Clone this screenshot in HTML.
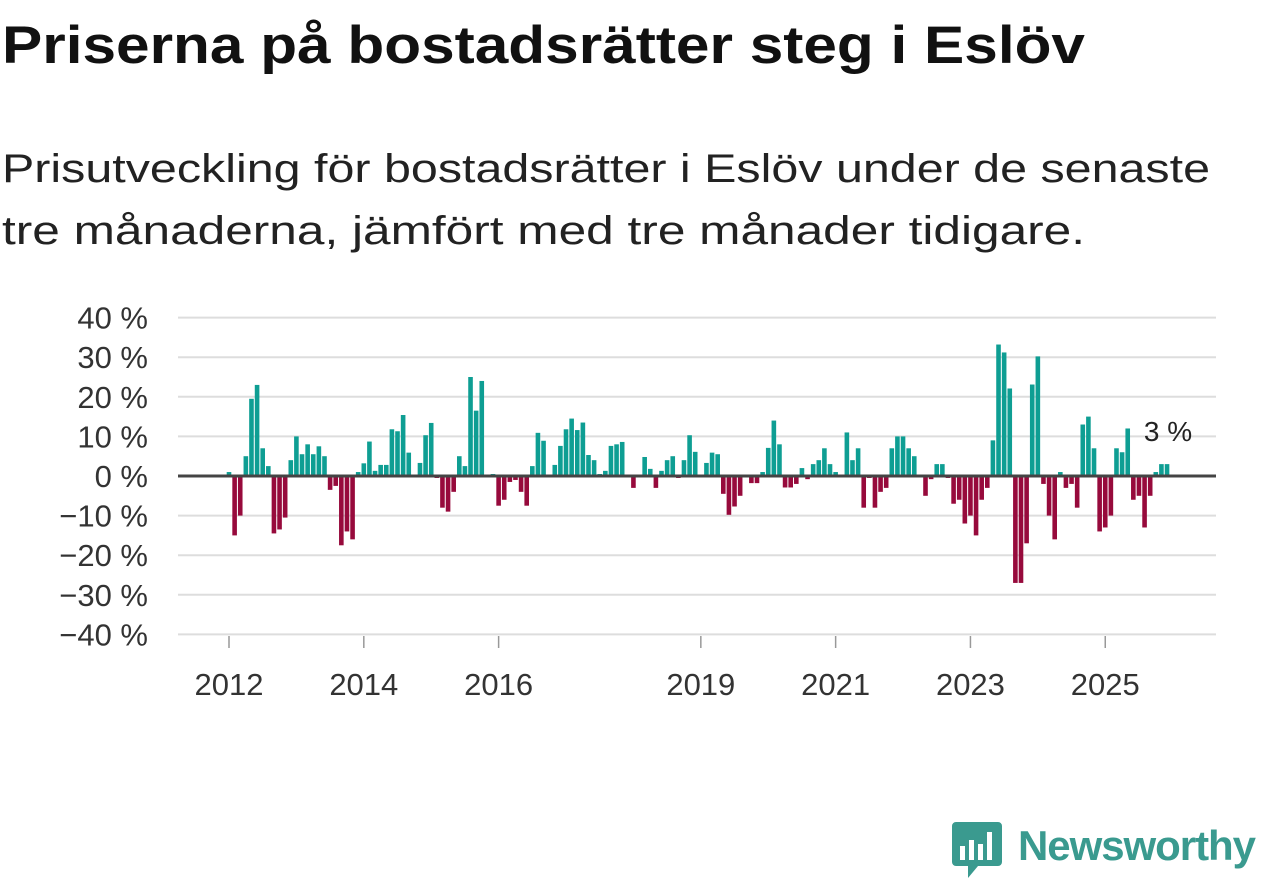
<!DOCTYPE html>
<html><head><meta charset="utf-8"><style>
body{margin:0;width:1262px;height:879px;background:#fff;overflow:hidden;font-family:"Liberation Sans",sans-serif;color:#111}
svg{position:absolute;left:0;top:0}
</style></head><body>
<svg width="1262" height="300">
<text x="2" y="63" font-size="53" font-weight="bold" fill="#111" font-family="Liberation Sans, sans-serif" textLength="1083" lengthAdjust="spacingAndGlyphs">Priserna på bostadsrätter steg i Eslöv</text>
<text x="2" y="182" font-size="40" fill="#222" font-family="Liberation Sans, sans-serif" textLength="1208" lengthAdjust="spacingAndGlyphs">Prisutveckling för bostadsrätter i Eslöv under de senaste</text>
<text x="2" y="244" font-size="40" fill="#222" font-family="Liberation Sans, sans-serif" textLength="1083" lengthAdjust="spacingAndGlyphs">tre månaderna, jämfört med tre månader tidigare.</text>
</svg>
<svg id="chart" width="1262" height="879" style="top:0"></svg>
<script>
const startYear = 2012;
const values = [1,-15,-10,5,19.5,23,7,2.5,-14.5,-13.5,-10.5,4,
10,5.5,8,5.5,7.5,5,-3.5,-2.5,-17.5,-14,-16,1,
3.2,8.7,1.3,2.8,2.8,11.8,11.3,15.4,5.9,0,3.3,10.3,
13.4,-0.5,-8,-9,-4,5,2.5,25,16.5,24,0,0.5,
-7.5,-6,-1.5,-1,-4,-7.5,2.5,10.9,8.9,0,2.8,7.6,
11.8,14.5,11.6,13.5,5.3,4,0.5,1.3,7.6,8,8.6,0,
-3,0,4.8,1.8,-3,1.3,4,5,-0.5,4,10.3,6.1,
0,3.3,5.9,5.5,-4.5,-9.8,-7.7,-5,0,-1.8,-1.8,1,
7.1,14,8,-2.9,-2.9,-2,2,-0.8,3,4,7,3,
1,0,11,4,7,-8,-0.5,-8,-4,-3,7,10,
10,7,5,0,-5,-0.8,3,3,-0.5,-7,-6,-12,
-10,-15,-6,-3,9,33.2,31.2,22.1,-27,-27,-17,23.1,
30.2,-2,-10,-16,1,-3,-2,-8,13,15,7,-14,
-13,-10,7,6,12,-6,-5,-13,-5,1,3,3];
const yTicks = [40,30,20,10,0,-10,-20,-30,-40];
const yTickLabels = ["40 %","30 %","20 %","10 %","0 %","\u221210 %","\u221220 %","\u221230 %","\u221240 %"];
const xTickYears = [2012,2014,2016,2019,2021,2023,2025];
const lastLabel = "3 %";

const svg = document.getElementById('chart');
const NS = 'http://www.w3.org/2000/svg';
const x0 = 229, monthW = 5.617;
const xScale = m => x0 + m * monthW;
const yScale = v => 476 - v * 3.96;
function mk(tag, attrs){const e=document.createElementNS(NS,tag);for(const k in attrs)e.setAttribute(k,attrs[k]);svg.appendChild(e);return e;}

yTicks.forEach((t,i)=>{
  const g = mk('line',{x1:178,x2:1216,y1:yScale(t),y2:yScale(t),stroke:'#ddd','stroke-width':2});
  
  
  const tx = mk('text',{x:148,y:yScale(t)+11,'text-anchor':'end','font-size':31,fill:'#333','font-family':'Liberation Sans, sans-serif'});
  tx.textContent = yTickLabels[i];
  
  
});
values.forEach((v,i)=>{
  const cx = xScale(i);
  const y = Math.min(yScale(v), yScale(0));
  const h = Math.abs(yScale(v)-yScale(0));
  const r = mk('rect',{x:cx-2.3,y:y,width:4.6,height:Math.max(h,0.01),fill:v>=0?'#0e9e93':'#970a3c'});
  
  
});
const zl = mk('line',{x1:178,x2:1216,y1:yScale(0),y2:yScale(0),stroke:'#444','stroke-width':3});


xTickYears.forEach(yr=>{
  const cx = xScale((yr-startYear)*12);
  const tk = mk('line',{x1:cx,x2:cx,y1:636,y2:648,stroke:'#999','stroke-width':1.5});
  
  
  const tx = mk('text',{x:cx,y:695,'text-anchor':'middle','font-size':31,fill:'#333','font-family':'Liberation Sans, sans-serif'});
  tx.textContent = yr;
  
  
});
const ll = mk('text',{x:xScale(values.length-1)+1,y:yScale(values[values.length-1])-23,'text-anchor':'middle','font-size':28,fill:'#222','font-family':'Liberation Sans, sans-serif'});
ll.textContent = lastLabel;


</script>
<svg width="1262" height="879" style="pointer-events:none">
  <path d="M956 822 h42 a4 4 0 0 1 4 4 v36 a4 4 0 0 1 -4 4 h-20 l-10 12 v-12 h-12 a4 4 0 0 1 -4 -4 v-36 a4 4 0 0 1 4 -4z" fill="#3a9a8f"/>
  <rect x="960" y="846" width="5" height="14" fill="#fff"/><rect x="969" y="840" width="5" height="20" fill="#fff"/><rect x="978" y="844" width="5" height="16" fill="#fff"/><rect x="987" y="832" width="5" height="28" fill="#fff"/>
  <text x="1018" y="860" font-size="42" font-weight="bold" fill="#3a9a8f" font-family="Liberation Sans, sans-serif" textLength="238">Newsworthy</text>
</svg>
</body></html>
